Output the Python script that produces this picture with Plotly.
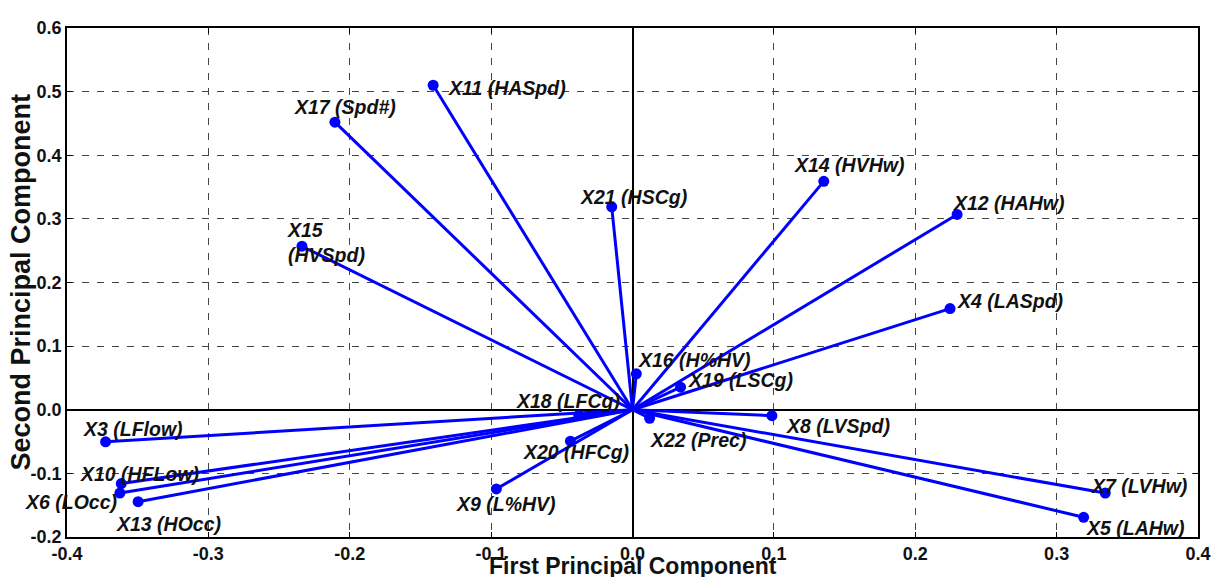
import plotly.graph_objects as go

# ---- data ----
var_labels = ["X11 (HASpd)", "X17 (Spd#)", "X15<br>(HVSpd)", "X21 (HSCg)", "X14 (HVHw)",
              "X12 (HAHw)", "X4 (LASpd)", "X16 (H%HV)", "X19 (LSCg)", "X18 (LFCg)",
              "X22 (Prec)", "X20 (HFCg)", "X9 (L%HV)", "X8 (LVSpd)", "X7 (LVHw)",
              "X5 (LAHw)", "X3 (LFlow)", "X10 (HFLow)", "X6 (LOcc)", "X13 (HOcc)"]
pc1 = [-0.141, -0.2105, -0.2338, -0.0147, 0.1353,
       0.2296, 0.2246, 0.0027, 0.034, -0.038,
       0.0121, -0.0439, -0.0963, 0.0986, 0.3344,
       0.3191, -0.3727, -0.3616, -0.3626, -0.3497]
pc2 = [0.510, 0.452, 0.257, 0.319, 0.359,
       0.307, 0.159, 0.0565, 0.0354, -0.009,
       -0.0134, -0.0494, -0.1245, -0.0093, -0.131,
       -0.169, -0.0504, -0.116, -0.131, -0.1445]

x_tickvals = [-0.4, -0.3, -0.2, -0.1, 0.0, 0.1, 0.2, 0.3, 0.4]
x_ticktext = ["-0.4", "-0.3", "-0.2", "-0.1", "0.0", "0.1", "0.2", "0.3", "0.4"]
y_tickvals = [-0.2, -0.1, 0.0, 0.1, 0.2, 0.3, 0.4, 0.5, 0.6]
y_ticktext = ["-0.2", "-0.1", "0.0", "0.1", "0.2", "0.3", "0.4", "0.5", "0.6"]

x_title = "First Principal Component"
y_title = "Second Principal Component"

# ---- label placement (pixel offsets from point: xanchor, dx, dy up) ----
label_offsets = {
    "X11 (HASpd)": ("center", 74, -3),
    "X17 (Spd#)": ("center", 10, 15),
    "X15<br>(HVSpd)": ("left", -17, 4),
    "X21 (HSCg)": ("center", 22, 10),
    "X14 (HVHw)": ("center", 25, 16),
    "X12 (HAHw)": ("center", 52, 11),
    "X4 (LASpd)": ("center", 60, 8),
    "X16 (H%HV)": ("center", 58, 14),
    "X19 (LSCg)": ("center", 60, 7),
    "X18 (LFCg)": ("center", -11, 14),
    "X22 (Prec)": ("center", 48, -22),
    "X20 (HFCg)": ("center", 6, -11),
    "X9 (L%HV)": ("center", 10, -15),
    "X8 (LVSpd)": ("center", 66, -10),
    "X7 (LVHw)": ("center", 34, 7),
    "X5 (LAHw)": ("center", 52, -11),
    "X3 (LFlow)": ("center", 27, 13),
    "X10 (HFLow)": ("center", 18, 10),
    "X6 (LOcc)": ("center", -49, -9),
    "X13 (HOcc)": ("center", 30, -22),
}

BLUE = "#0000FF"
FONT = "Liberation Sans, Arial, sans-serif"

# lines from origin to each loading
lx, ly = [], []
for x, y in zip(pc1, pc2):
    lx += [0, x, None]
    ly += [0, y, None]

fig = go.Figure()
fig.add_trace(go.Scatter(x=lx, y=ly, mode="lines",
                         line=dict(color=BLUE, width=3), hoverinfo="skip",
                         showlegend=False))
fig.add_trace(go.Scatter(x=pc1, y=pc2, mode="markers",
                         marker=dict(color=BLUE, size=11), text=var_labels,
                         showlegend=False))

for lab, x, y in zip(var_labels, pc1, pc2):
    anc, dx, dy = label_offsets[lab]
    fig.add_annotation(x=x, y=y, xref="x", yref="y", text=lab, showarrow=False,
                       xanchor=anc, yanchor="middle", align="left",
                       xshift=dx, yshift=dy,
                       font=dict(family=FONT, size=19.5, color="#111111",
                                 weight="bold", style="italic"))

fig.add_annotation(x=0.5, y=0, xref="paper", yref="paper", text=x_title,
                   showarrow=False, xanchor="center", yanchor="middle", yshift=-29,
                   font=dict(family=FONT, size=23, color="#111111", weight="bold"))
fig.add_annotation(x=0, y=0.5, xref="paper", yref="paper", text=y_title,
                   showarrow=False, xanchor="center", yanchor="middle", xshift=-47,
                   textangle=-90,
                   font=dict(family=FONT, size=27, color="#111111", weight="bold"))

axis_common = dict(
    showline=True, linecolor="black", linewidth=1.5, mirror="ticks",
    ticks="inside", ticklen=5, tickcolor="black",
    showgrid=True, gridcolor="#444444", gridwidth=1, griddash="7px,8px",
    zeroline=True, zerolinecolor="black", zerolinewidth=2,
    tickfont=dict(family=FONT, size=18, color="#111111", weight="bold"),
)

fig.update_xaxes(range=[-0.4, 0.4], tickvals=x_tickvals, ticktext=x_ticktext,
                 **axis_common)
fig.update_yaxes(range=[-0.2, 0.6], tickvals=y_tickvals, ticktext=y_ticktext,
                 **axis_common)

# page body has an 8px margin: size/offset the figure so the plot area lands
# at the reference position inside the 1221x577 window
fig.update_layout(
    width=1213, height=569,
    margin=dict(l=59, r=20, t=10, b=40, pad=0),
    plot_bgcolor="white", paper_bgcolor="white",
    showlegend=False,
)

fig.write_html("out.html")
